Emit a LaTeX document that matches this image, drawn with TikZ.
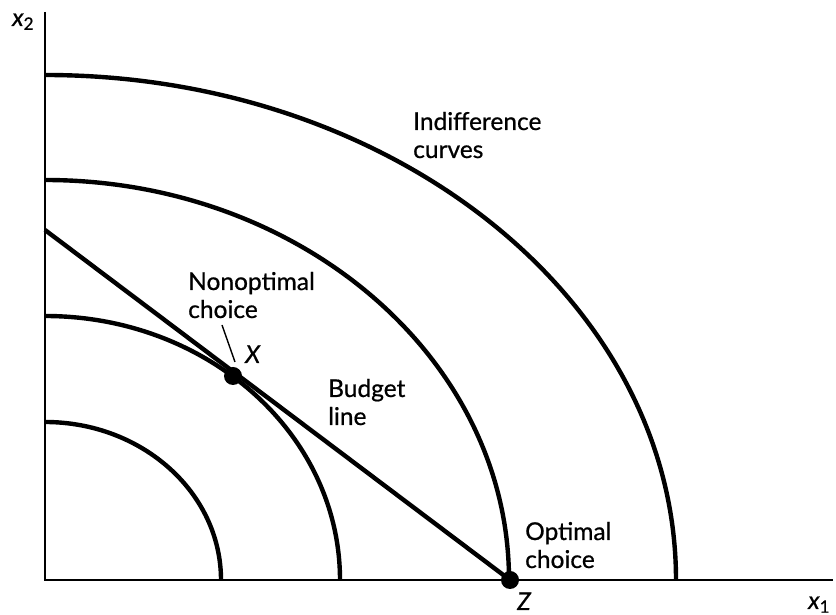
\documentclass[tikz,border=0pt]{standalone}
\usepackage{fontspec}
\setmainfont{Lato}
\newfontfamily\lblfont{Lato}[FakeBold=0.7]
\begin{document}
\begin{tikzpicture}[x=1pt,y=1pt,
  curve/.style={line width=4.4pt},
  axis/.style={line width=2.8pt},
  lbl/.style={inner sep=0pt,anchor=base west,align=left,font=\lblfont\fontsize{24.5}{28}\selectfont},
  dotstyle/.style={circle,fill=black,inner sep=0pt,minimum size=18pt}]
\useasboundingbox (0,0) rectangle (836,615);
\coordinate (O) at (45,35);
\coordinate (ytop) at (45,603);
\coordinate (xend) at (833,35);
\draw[axis] (ytop) -- (O) -- (xend);
% indifference curves
\draw[curve] (45,193) arc[start angle=90,end angle=0,x radius=176,y radius=158];
\draw[curve] (45,299) arc[start angle=90,end angle=0,x radius=295,y radius=264];
\draw[curve] (45,435) arc[start angle=90,end angle=0,x radius=464,y radius=400];
\draw[curve] (45,540) arc[start angle=90,end angle=0,x radius=631,y radius=505];
% budget line
\coordinate (B) at (45,385);
\node[dotstyle] (Z) at (510,35) {};
\node[dotstyle] (X) at (233,239) {};
\draw[curve] (B) -- (Z.center);
% labels
\node[lbl] (x2) at (12,589) {\textit{x}\textsubscript{2}};
\node[lbl] (x1) at (808,6) {\textit{x}\textsubscript{1}};
\node[lbl] (ind) at (413,457) {Indifference\\curves};
\node[lbl] (nonopt) at (188,297) {Nonoptimal\\choice};
\node[lbl] (Xl) at (245,252) {\textit{X}};
\node[lbl] (bud) at (328,190) {Budget\\line};
\node[lbl] (opt) at (525,47) {Optimal\\choice};
\node[lbl] (Zl) at (517,5) {\textit{Z}};
\coordinate (leadA) at (222,290);
\coordinate (leadB) at (235,253);
\draw[line width=1.4pt] (leadA) -- (leadB);
\end{tikzpicture}
\end{document}
